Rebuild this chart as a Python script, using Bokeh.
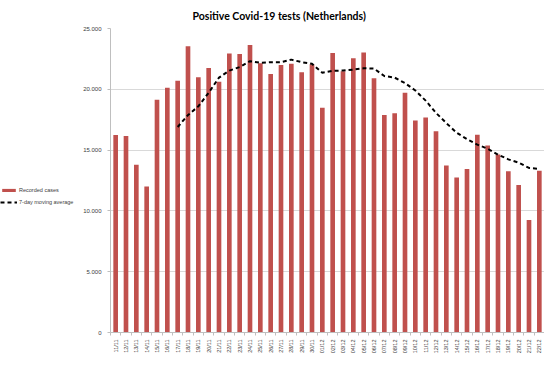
import math
from bokeh.plotting import figure
from bokeh.layouts import row
from bokeh.models import Legend, LegendItem, FixedTicker, Range1d, ColumnDataSource
from bokeh.embed import file_html
from bokeh.resources import INLINE

dates = ["11/11", "12/11", "13/11", "14/11", "15/11", "16/11", "17/11", "18/11", "19/11", "20/11",
         "21/11", "22/11", "23/11", "24/11", "25/11", "26/11", "27/11", "28/11", "29/11", "30/11",
         "01/12", "02/12", "03/12", "04/12", "05/12", "06/12", "07/12", "08/12", "09/12", "10/12",
         "11/12", "12/12", "13/12", "14/12", "15/12", "16/12", "17/12", "18/12", "19/12", "20/12",
         "21/12", "22/12"]
cases = [16250, 16160, 13790, 12000, 19150, 20120, 20700, 23550, 20990, 21760,
         20620, 22940, 22900, 23650, 22150, 21250, 22000, 22100, 21410, 22070,
         18480, 22990, 21490, 22550, 23020, 20910, 17880, 18040, 19720, 17430,
         17690, 16560, 13740, 12740, 13450, 16270, 15370, 14630, 13260, 12130,
         9260, 13310]
moving_avg = [float("nan")] * 6 + [
    16900, 17880, 18600, 19720, 20960, 21540, 21830, 22310, 22180, 22230,
    22230, 22440, 22230, 22100, 21360, 21520, 21540, 21620, 21730, 21700,
    21090, 20960, 20510, 19900, 19070, 18060, 17220, 16430, 15900, 15450,
    15110, 14630, 14240, 13970, 13530, 13450]
y_ticks = [0, 5000, 10000, 15000, 20000, 25000]
y_tick_labels = ["0", "5.000", "10.000", "15.000", "20.000", "25.000"]
series_names = ["Recorded cases", "7-day moving average"]

BAR_COLOR = "#C0504D"
TEXT_COLOR = "#404040"
AXIS_COLOR = "#bfbfbf"
H = 356

idx = list(range(len(dates)))
src = ColumnDataSource(dict(x=idx, cases=cases, ma=moving_avg))

# ---- main chart ----
p = figure(width=464, height=H, output_backend="svg", toolbar_location=None,
           x_range=Range1d(-0.5, len(dates) - 0.5), y_range=Range1d(0, 25000),
           min_border_left=27, min_border_right=0, min_border_top=21, min_border_bottom=20)

p.title.text = "Positive Covid-19 tests (Netherlands)"
p.title.align = "left"
p.title.offset = 82
p.title.standoff = 14
p.title.text_font = "Lato"
p.title.text_font_style = "bold"
p.title.text_font_size = "10.5px"
p.title.text_color = "#000000"

bars = p.vbar(x="x", top="cases", width=0.45, source=src, fill_color=BAR_COLOR, line_color=None)
line = p.line(x="x", y="ma", source=src, line_color="#000000", line_width=2, line_dash="4 3")

p.outline_line_color = None
p.xgrid.grid_line_color = None
p.ygrid.grid_line_color = "#d9d9d9"
p.ygrid.ticker = FixedTicker(ticks=y_ticks)

p.yaxis.ticker = FixedTicker(ticks=y_ticks)
p.yaxis.major_label_overrides = {t: l for t, l in zip(y_ticks, y_tick_labels)}
p.yaxis.axis_line_color = AXIS_COLOR
p.yaxis.major_tick_line_color = AXIS_COLOR
p.yaxis.major_tick_out = 3
p.yaxis.major_tick_in = 0
p.yaxis.minor_tick_line_color = None
p.yaxis.major_label_text_font = "Liberation Sans"
p.yaxis.major_label_text_font_size = "6px"
p.yaxis.major_label_text_color = TEXT_COLOR
p.yaxis.major_label_standoff = 6

p.xaxis.ticker = FixedTicker(ticks=idx, minor_ticks=[i - 0.5 for i in range(len(dates) + 1)])
p.xaxis.major_label_overrides = {i: d for i, d in enumerate(dates)}
p.xaxis.major_label_orientation = math.pi / 2
p.xaxis.axis_line_color = AXIS_COLOR
p.xaxis.major_tick_line_color = None
p.xaxis.minor_tick_line_color = AXIS_COLOR
p.xaxis.minor_tick_out = 3
p.xaxis.minor_tick_in = 0
p.xaxis.major_label_text_font = "Liberation Sans"
p.xaxis.major_label_text_font_size = "5.5px"
p.xaxis.major_label_text_color = TEXT_COLOR
p.xaxis.major_label_standoff = 1
p.xaxis.axis_label = None
p.xaxis.axis_label_standoff = 0
p.xaxis.axis_label_text_font_size = "1px"

# ---- legend panel (left) ----
lf = figure(width=80, height=H, output_backend="svg", toolbar_location=None,
            x_range=Range1d(0, 1), y_range=Range1d(0, 1),
            x_axis_location=None, y_axis_location=None,
            min_border=0, min_border_left=0, min_border_right=0,
            min_border_top=0, min_border_bottom=0)
lf.grid.visible = False
lf.outline_line_color = None
# legend-only renderers: a single NaN entry, so nothing is drawn in the plot area
legend_src = ColumnDataSource(dict(x=[float("nan")], top=[float("nan")]))
lbar = lf.vbar(x="x", top="top", width=0.5, source=legend_src, fill_color=BAR_COLOR, line_color=None)
lline = lf.line(x="x", y="top", source=legend_src, line_color="#000000", line_width=2, line_dash="4 3")

legend = Legend(items=[LegendItem(label=series_names[0], renderers=[lbar]),
                       LegendItem(label=series_names[1], renderers=[lline])],
                location=(0, 126), orientation="vertical",
                glyph_width=17, glyph_height=4, label_height=8, spacing=4,
                label_standoff=2, padding=0, margin=0,
                label_text_font="Liberation Sans", label_text_font_size="5.5px",
                label_text_color=TEXT_COLOR,
                border_line_color=None, background_fill_alpha=0)
lf.add_layout(legend, "center")

layout = row(lf, p, spacing=0)

open("out.html", "w").write(file_html(layout, INLINE))
